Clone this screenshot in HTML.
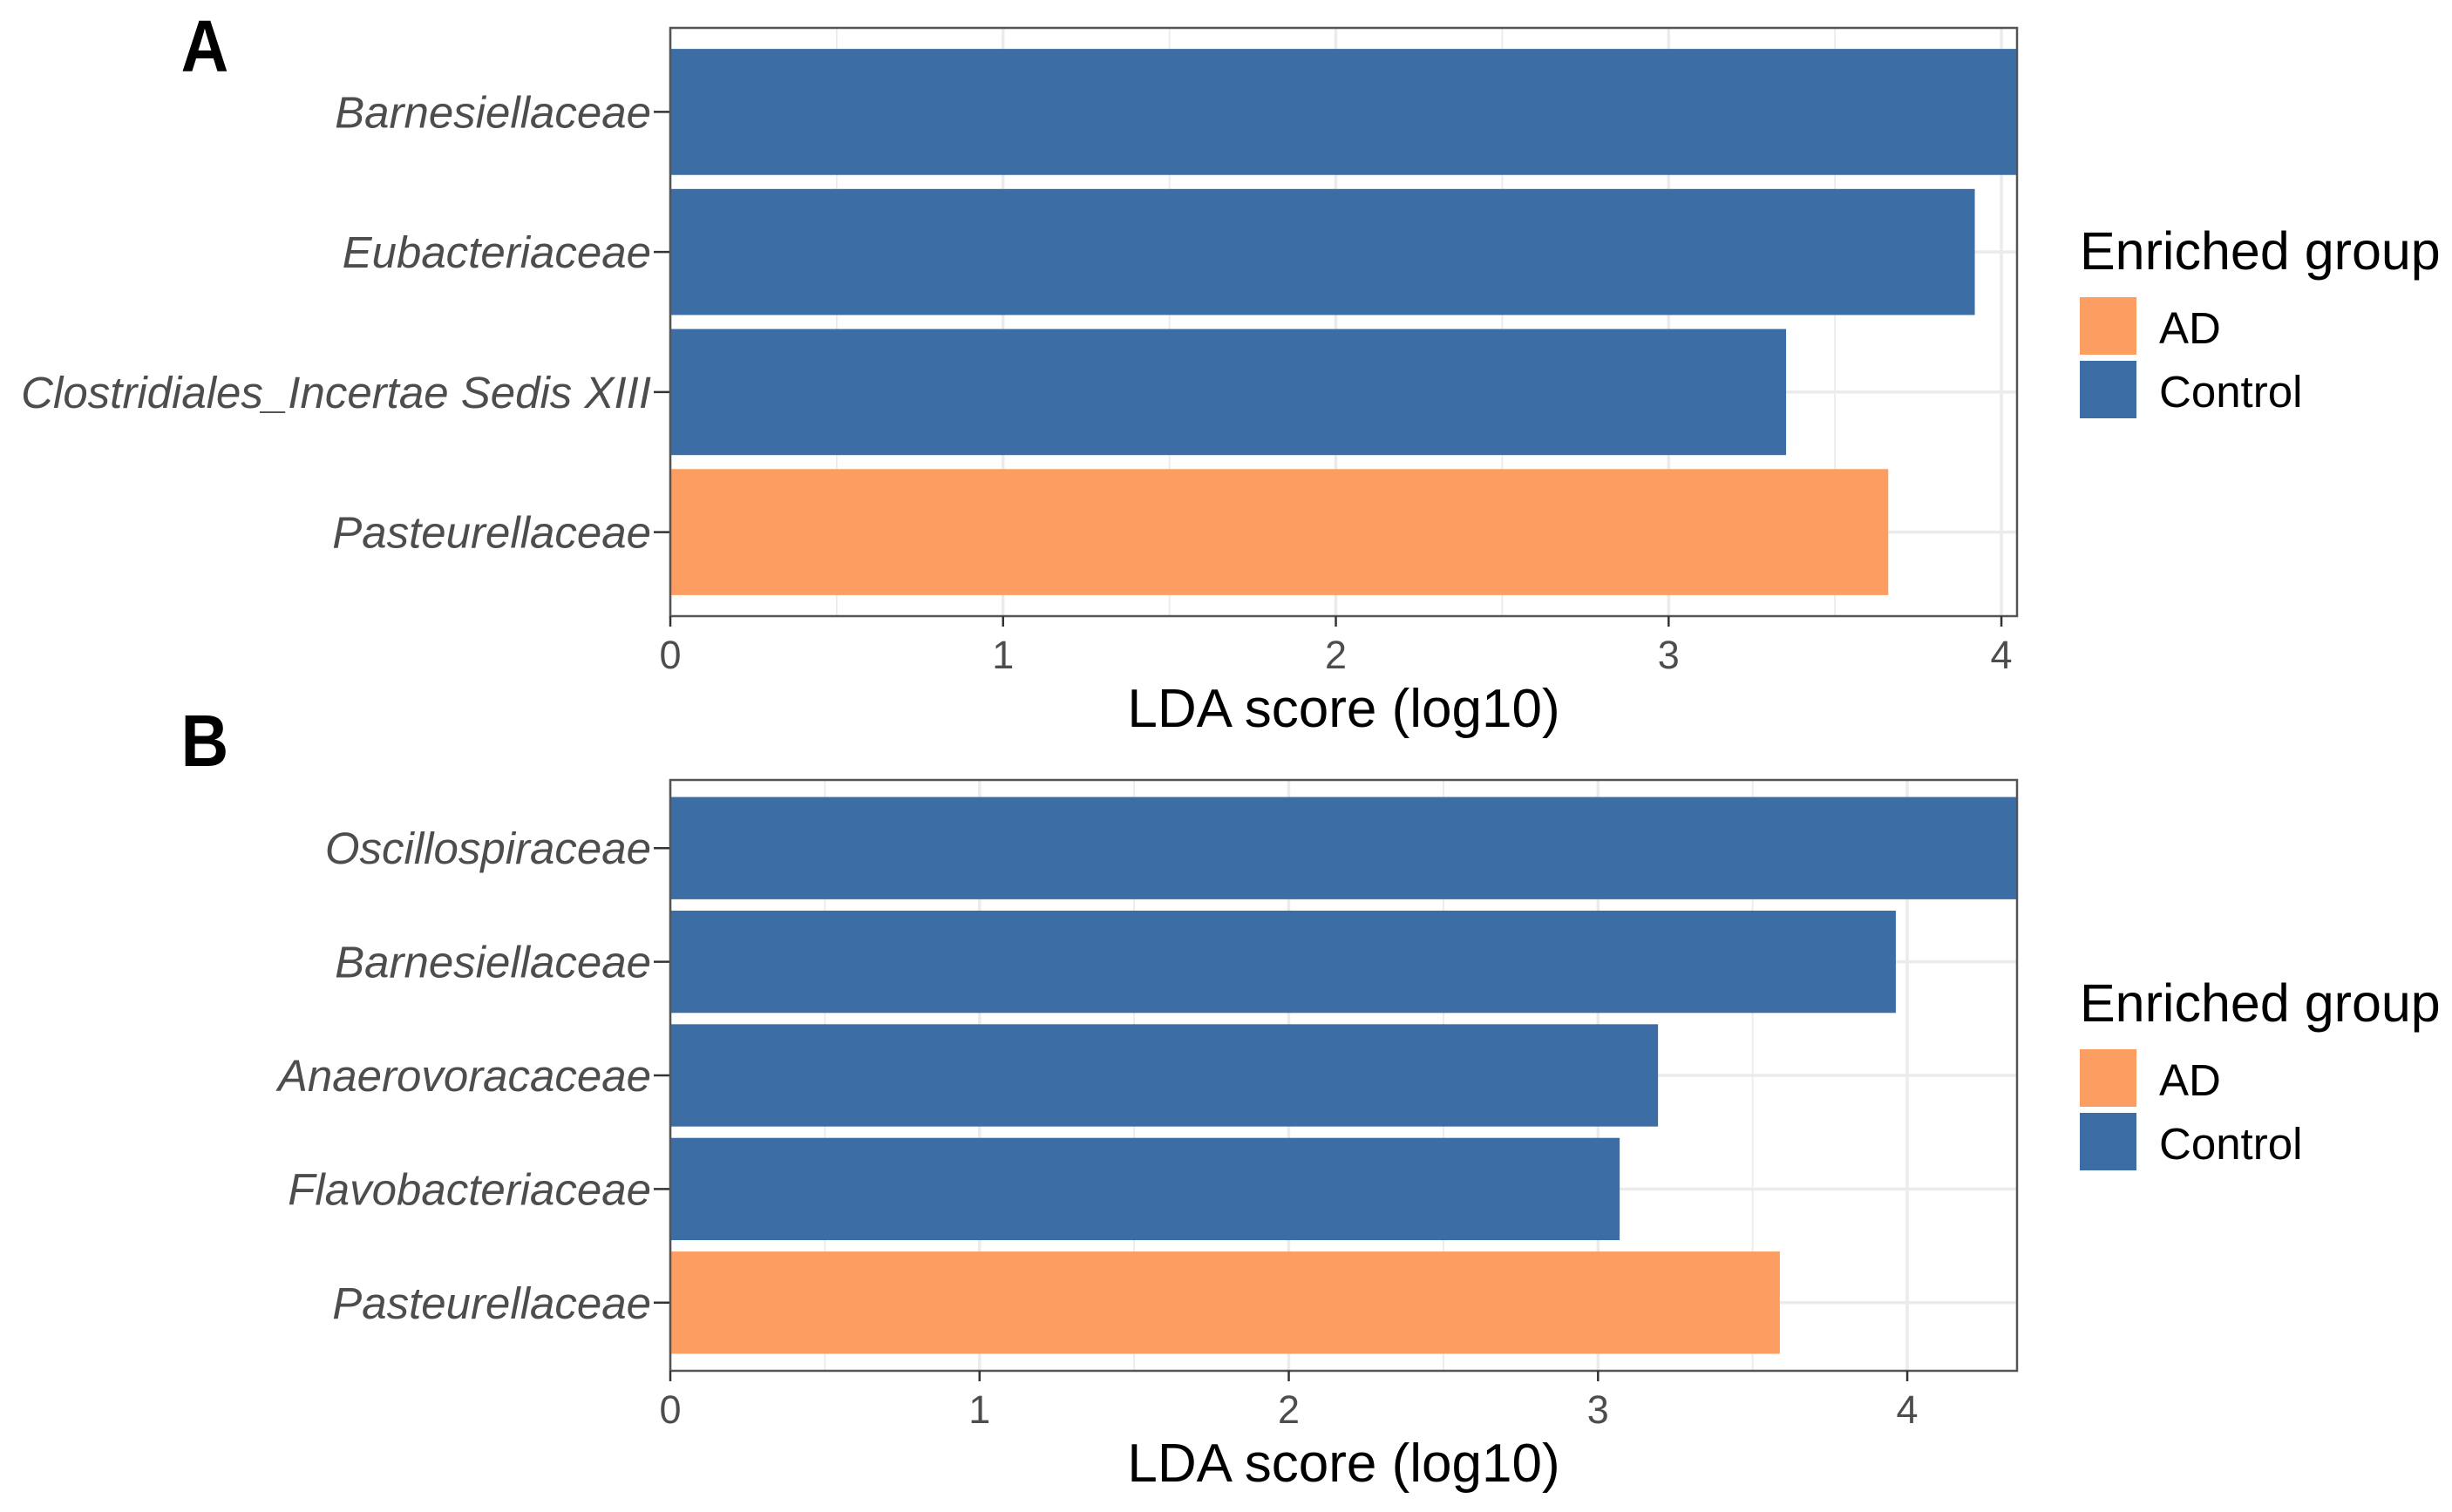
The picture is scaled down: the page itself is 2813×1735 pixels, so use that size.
<!DOCTYPE html>
<html><head><meta charset="utf-8"><style>
html,body{margin:0;padding:0;background:#fff}
svg{display:block}
text{font-family:"Liberation Sans",sans-serif}
</style></head><body>
<svg id="chart" width="2813" height="1735" viewBox="0 0 2813 1735" xmlns="http://www.w3.org/2000/svg">
<rect width="2813" height="1735" fill="#fff"/>
</svg>
<script>
const catsA = ["Barnesiellaceae","Eubacteriaceae","Clostridiales_Incertae Sedis XIII","Pasteurellaceae"];
const valsA = [4.06, 3.92, 3.353, 3.66];
const groupsA = ["Control","Control","Control","AD"];
const catsB = ["Oscillospiraceae","Barnesiellaceae","Anaerovoracaceae","Flavobacteriaceae","Pasteurellaceae"];
const valsB = [4.36, 3.963, 3.194, 3.07, 3.588];
const groupsB = ["Control","Control","Control","Control","AD"];
const ticks = [0,1,2,3,4];
const legendLabels = ["AD","Control"];

const NS="http://www.w3.org/2000/svg";
const svg=document.getElementById('chart');
const COL={AD:"#fc9e61",Control:"#3c6ea5"};
function mk(tag,attrs,parent){const e=document.createElementNS(NS,tag);for(const k in attrs)e.setAttribute(k,attrs[k]);(parent||svg).appendChild(e);return e;}

function panel(letter,cats,vals,groups,top,bottom,xmax,letterY,legTop){
  const left=769,right=2314;
  const g=mk('g',{});
  
  
  const xs=v=>left+(v)/xmax*(right-left);
  const n=cats.length;
  const unit=(bottom-top)/(n-1+1.2);
  const ys=i=>top+unit*(0.6+i);
  for(let t=0;t<=4;t+=0.5){
    if(xs(t)>right)continue;
    const l=mk('line',{x1:xs(t),x2:xs(t),y1:top,y2:bottom,stroke:'#ebebeb','stroke-width':t%1===0?3.5:1.8},g);
    
    
  }
  for(let i=0;i<n;i++){
    const l=mk('line',{x1:left,x2:right,y1:ys(i),y2:ys(i),stroke:'#ebebeb','stroke-width':3.5},g);
    
    
  }
  for(let i=0;i<n;i++){
    const w=Math.min(xs(vals[i]),right)-left;
    const r=mk('rect',{x:left,y:ys(i)-unit*0.45,width:w,height:unit*0.9,fill:COL[groups[i]]},g);
    
    
    const tk=mk('line',{x1:750,x2:left,y1:ys(i),y2:ys(i),stroke:'#333','stroke-width':2.5},g);
    
    
    const tx=mk('text',{x:747,y:ys(i)+18,'text-anchor':'end','font-size':51,'font-style':'italic',fill:'#4d4d4d'},g);
    tx.textContent=cats[i];
    
    
  }
  const b=mk('rect',{x:left,y:top,width:right-left,height:bottom-top,fill:'none',stroke:'#555','stroke-width':2.5},g);
  
  
  ticks.forEach(t=>{
    const tk=mk('line',{x1:xs(t),x2:xs(t),y1:bottom,y2:bottom+12,stroke:'#333','stroke-width':2.5},g);
    
    
    const tx=mk('text',{x:xs(t),y:bottom+60,'text-anchor':'middle','font-size':45,fill:'#4d4d4d'},g);
    tx.textContent=String(t);
    
    
  });
  const at=mk('text',{x:(left+right)/2,y:bottom+127,'text-anchor':'middle','font-size':62,fill:'#000'},g);
  at.textContent='LDA score (log10)';
  
  
  const lt=mk('text',{x:235,y:letterY,'text-anchor':'middle','font-size':84,'font-weight':'bold',fill:'#000',transform:'translate(235 0) scale(0.9 1) translate(-235 0)'},g);
  lt.textContent=letter;
  
  
  const lg=mk('g',{},g);
  
  
  const ttl=mk('text',{x:2386,y:legTop,'font-size':61,fill:'#000'},lg);
  ttl.textContent='Enriched group';
  
  
  legendLabels.forEach((lab,i)=>{
    const y0=legTop+32+i*73;
    const k=mk('rect',{x:2386,y:y0,width:65,height:66,fill:COL[lab]},lg);
    
    
    const t=mk('text',{x:2477,y:y0+53,'font-size':51,fill:'#000'},lg);
    t.textContent=lab;
    
    
  });
}
panel('A',catsA,valsA,groupsA,32,707,4.047,82,309);
panel('B',catsB,valsB,groupsB,895,1573,4.355,879,1172);
</script>
</body></html>
